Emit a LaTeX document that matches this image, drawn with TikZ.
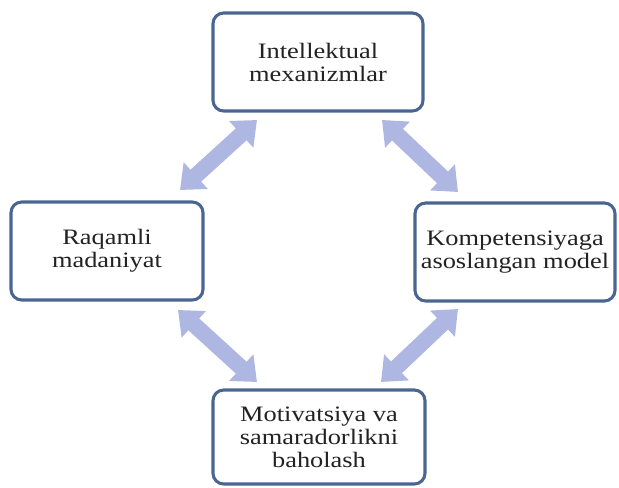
\documentclass[tikz,border=0pt]{standalone}
\usepackage{fontspec}
\setmainfont[FakeStretch=1.2]{Liberation Serif}
\usetikzlibrary{arrows.meta}
\definecolor{boxline}{HTML}{4A6690}
\definecolor{arrowfill}{HTML}{ADB7E2}
\definecolor{txt}{HTML}{222222}
\tikzset{
  px/.style={x=0.75pt,y=-0.75pt},
  box/.style={draw=boxline, line width=2.3pt, rounded corners=8pt, fill=white,
    align=center, text=txt, inner sep=0pt,
    font=\fontsize{16.5}{17.25}\selectfont},
  bigarrow/.style={draw=arrowfill, line width=12pt,
    {Triangle[length=16pt,width=26pt]}-{Triangle[length=16pt,width=26pt]}}
}
\begin{document}
\begin{tikzpicture}[px]
\useasboundingbox (0,0) rectangle (619,487);
% boxes
\node[box, minimum width=210*0.75pt, minimum height=98*0.75pt] (top) at (318,62) {Intellektual\\mexanizmlar};
\node[box, minimum width=192*0.75pt, minimum height=98*0.75pt] (left) at (107,251) {Raqamli\\madaniyat};
\node[box, minimum width=200*0.75pt, minimum height=98*0.75pt] (right) at (515,252) {Kompetensiyaga\\asoslangan model};
\node[box, minimum width=212*0.75pt, minimum height=94*0.75pt] (bottom) at (319,437) {Motivatsiya va\\samaradorlikni\\baholash};
% arrow ends
\coordinate (tl1) at (180,190);
\coordinate (tl2) at (257,120);
\coordinate (tr1) at (382,120);
\coordinate (tr2) at (458,192);
\coordinate (bl1) at (178,310);
\coordinate (bl2) at (257,382);
\coordinate (br1) at (458,309);
\coordinate (br2) at (381,382);
\draw[bigarrow] (tl1) -- (tl2);
\draw[bigarrow] (tr1) -- (tr2);
\draw[bigarrow] (bl1) -- (bl2);
\draw[bigarrow] (br1) -- (br2);
\end{tikzpicture}
\end{document}
